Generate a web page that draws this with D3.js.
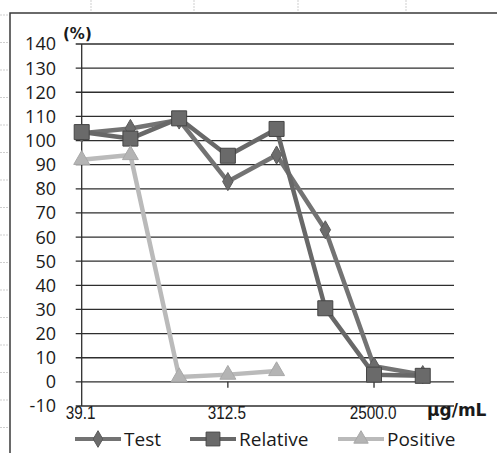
<!DOCTYPE html>
<html>
<head>
<meta charset="utf-8">
<script src="https://cdn.jsdelivr.net/npm/d3@7"></script>
<style>
  html, body { margin: 0; padding: 0; background: #fff; }
  svg { display: block; }
</style>
</head>
<body>
<svg id="chart" width="497" height="453"></svg>
<script>
// Concentrations (µg/mL) tested, two-fold dilution series
const concentrations = [39.0625, 78.125, 156.25, 312.5, 625, 1250, 2500, 5000];
// Response (%) per series
const testValues     = [103, 105, 108.5, 83, 94, 63, 6.5, 3];
const relativeValues = [103.5, 100.8, 109.2, 93.7, 104.8, 30.5, 3, 2.5];
const positiveValues = [92, 94, 2, 3, 4.5];
// Axis ticks
const yTicks = [-10, 0, 10, 20, 30, 40, 50, 60, 70, 80, 90, 100, 110, 120, 130, 140];
const xTickValues = [39.0625, 312.5, 2500];
const seriesNames = ["Test", "Relative", "Positive"];

const svg = d3.select("#chart");

const plot = { left: 81.7, right: 454, top: 44, bottom: 406 };
const x = d3.scaleLog().base(2).domain([39.0625, 7800]).range([plot.left, plot.right]);
const y = d3.scaleLinear().domain([-10, 140]).range([plot.bottom, plot.top]);

// faint worksheet cell lines behind the chart
const sheet = svg.append("g").attr("stroke", "#cfcfcf").attr("stroke-width", 1).attr("stroke-dasharray", "2,1");
[91, 194, 298, 406].forEach(cx => sheet.append("line").attr("x1", cx).attr("x2", cx).attr("y1", 0).attr("y2", 12));
d3.range(15, 453, 27.5).forEach(cy => sheet.append("line").attr("x1", 0).attr("x2", 8).attr("y1", cy).attr("y2", cy));

// chart area frame (top and left edges)
svg.append("path")
  .attr("d", "M10,453 L10,13 L497,13")
  .attr("fill", "none").attr("stroke", "#3a3a3a").attr("stroke-width", 1.5);

// horizontal gridlines
svg.append("g").selectAll("line").data(yTicks).join("line")
  .attr("x1", plot.left - 6).attr("x2", plot.right)
  .attr("y1", d => y(d)).attr("y2", d => y(d))
  .attr("stroke", "#2e2e2e").attr("stroke-width", 1.3);

// y axis line
svg.append("line")
  .attr("x1", plot.left).attr("x2", plot.left)
  .attr("y1", y(140)).attr("y2", y(-10))
  .attr("stroke", "#2e2e2e").attr("stroke-width", 1.3);

// y tick labels
svg.append("g").selectAll("text").data(yTicks).join("text")
  .attr("x", 56).attr("y", d => y(d)).attr("dy", "0.36em")
  .attr("text-anchor", "end")
  .attr("font-family", "'Open Sans', sans-serif").attr("font-size", 18)
  .attr("fill", "#1a1a1a")
  .text(d => d);

// x tick marks on the zero line
svg.append("g").selectAll("line").data(xTickValues.slice(1)).join("line")
  .attr("x1", d => x(d)).attr("x2", d => x(d))
  .attr("y1", y(0)).attr("y2", y(0) + 6)
  .attr("stroke", "#2e2e2e").attr("stroke-width", 1.3);

// x tick labels, placed at the bottom of the plot (narrow lettering)
svg.append("g").selectAll("text").data(xTickValues).join("text")
  .attr("transform", d => `translate(${x(d) - 1},418.5) scale(0.85,1)`)
  .attr("text-anchor", "middle")
  .attr("font-family", "'Liberation Sans', Arial, sans-serif")
  .attr("font-size", 18).attr("fill", "#1a1a1a")
  .text(d => d3.format(".1f")(d));

// axis titles
svg.append("text").attr("x", 63).attr("y", 39)
  .attr("font-family", "'DejaVu Sans', sans-serif").attr("font-weight", "bold")
  .attr("font-size", 15).attr("fill", "#1a1a1a").text("(%)");
svg.append("text").attr("x", 427).attr("y", 416)
  .attr("font-family", "'DejaVu Sans', sans-serif").attr("font-weight", "bold")
  .attr("font-size", 17).attr("fill", "#1a1a1a").text("µg/mL");

// marker shapes
const symbolFor = {
  Test: d3.symbol().type(d3.symbolDiamond).size(95),
  Relative: d3.symbol().type(d3.symbolSquare).size(225),
  Positive: d3.symbol().type(d3.symbolTriangle).size(110)
};
const style = {
  Test:     { line: "#737373", fill: "#6c6c6c", stroke: "#5a5a5a" },
  Relative: { line: "#686868", fill: "#6a6a6a", stroke: "#454545" },
  Positive: { line: "#bababa", fill: "#b4b4b4", stroke: "#a8a8a8" }
};
const series = [
  { name: "Test", values: testValues },
  { name: "Relative", values: relativeValues },
  { name: "Positive", values: positiveValues }
];

const line = d3.line().x(d => x(d.c)).y(d => y(d.v));

series.forEach(s => {
  const pts = s.values.map((v, i) => ({ c: concentrations[i], v }));
  const st = style[s.name];
  const g = svg.append("g");
  g.append("path").datum(pts).attr("d", line)
    .attr("fill", "none").attr("stroke", st.line)
    .attr("stroke-width", 4.5).attr("stroke-linejoin", "round");
  g.selectAll("path.m").data(pts).join("path").attr("class", "m")
    .attr("transform", d => `translate(${x(d.c)},${y(d.v)})`)
    .attr("d", symbolFor[s.name])
    .attr("fill", st.fill).attr("stroke", st.stroke).attr("stroke-width", 1);
});

// legend
const legendY = 439;
const legendItems = [
  { name: "Test", x0: 75 },
  { name: "Relative", x0: 190 },
  { name: "Positive", x0: 338 }
];
const legendSymbol = {
  Test: d3.symbol().type(d3.symbolDiamond).size(80),
  Relative: d3.symbol().type(d3.symbolSquare).size(190),
  Positive: d3.symbol().type(d3.symbolTriangle).size(90)
};
const lg = svg.append("g");
legendItems.forEach(it => {
  const st = style[it.name];
  lg.append("line").attr("x1", it.x0).attr("x2", it.x0 + 46)
    .attr("y1", legendY).attr("y2", legendY)
    .attr("stroke", st.line).attr("stroke-width", 4);
  lg.append("path").attr("transform", `translate(${it.x0 + 23},${legendY})`)
    .attr("d", legendSymbol[it.name])
    .attr("fill", st.fill).attr("stroke", st.stroke).attr("stroke-width", 1);
  lg.append("text").attr("x", it.x0 + 49).attr("y", legendY).attr("dy", "0.36em")
    .attr("font-family", "'Open Sans', sans-serif").attr("font-size", 19)
    .attr("fill", "#1a1a1a").text(it.name);
});
</script>
</body>
</html>
